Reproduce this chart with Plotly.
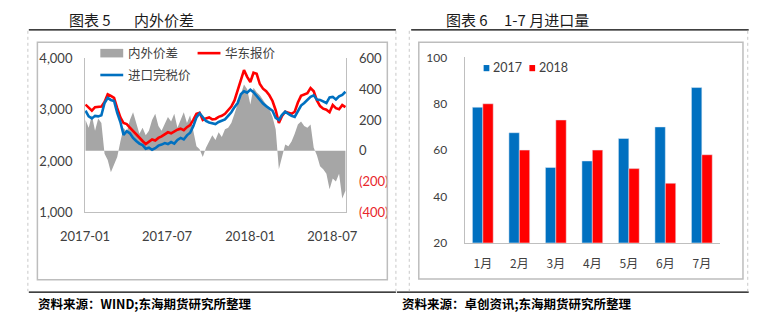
import plotly.graph_objects as go
import pandas as pd

W, H = 774, 323

# ---------------- data: chart 5 (weekly) ----------------
dates = pd.date_range("2017-01-02", periods=83, freq="7D")

east_china_price = [
    3100, 3030, 2980, 3050, 3050, 3060, 3150, 3300, 3270, 3230,
    3030, 2850, 2740, 2720, 2650, 2580, 2510, 2450, 2390, 2330,
    2380, 2420, 2400, 2450, 2480, 2520, 2560, 2540, 2580, 2610,
    2630, 2600, 2660, 2700, 2800, 2920, 2940, 2800, 2830, 2850,
    2810, 2820, 2860, 2880, 2920, 2980, 3060, 3180, 3380, 3580,
    3770, 3640, 3540, 3720, 3700, 3500, 3410, 3360, 3280, 3170,
    2990, 2740, 2880, 2960, 2940, 2920, 2960, 3140, 3270, 3290,
    3320, 3420, 3360, 3180, 3070, 3020, 3000, 2950, 3090, 3030,
    3010, 3090, 3050,
]

import_price = [
    2980, 2870, 2830, 2880, 2870, 2890, 3130, 3230, 3190, 3170,
    2940, 2760, 2510, 2580, 2540, 2450, 2390, 2340, 2310, 2240,
    2260, 2220, 2250, 2300, 2320, 2350, 2330, 2370, 2340, 2410,
    2450, 2420, 2500, 2550, 2680, 2850, 2930, 2850, 2780, 2750,
    2730, 2720, 2760, 2790, 2810, 2880, 2950, 3050, 3130, 3300,
    3360, 3330, 3390, 3340, 3270, 3180, 3120, 3070, 3020, 2980,
    2840, 2800, 2900, 2960, 2920, 2880, 2860, 2980, 3080, 3130,
    3190, 3250, 3280, 3200, 3190, 3160, 3130, 3240, 3250, 3200,
    3260, 3290, 3350,
]

spread = [
    200, 150, 230, 130, 210, 180, -20, -60, -140, -90,
    -40, 60, 150, 120, 200, 250, 180, 110, 150, 100,
    130, 200, 240, 160, 130, 180, 220, 190, 240, 150,
    200, 250, 180, 230, 130, 30, 10, -40, 20, 60,
    100, 70, 120, 90, 140, 150, 180, 240, 300, 370,
    430, 400, 300, 410, 380, 360, 330, 300, 270, 220,
    140, -120, -40, 40, 30, 60, 110, 170, 190, 160,
    150, 170, 20, -30, -100, -120, -150, -250, -180, -200,
    -150, -310, -260,
]

x_tick_vals = ["2017-01-01", "2017-07-01", "2018-01-01", "2018-07-01"]
x_tick_text = ["2017-01", "2017-07", "2018-01", "2018-07"]
price_ticks = [1000, 2000, 3000, 4000]
spread_ticks = [-400, -200, 0, 200, 400, 600]

# ---------------- data: chart 6 ----------------
months = ["1月", "2月", "3月", "4月", "5月", "6月", "7月"]
imports_2017 = [78.5, 67.5, 52.5, 55.3, 65, 70, 87]
imports_2018 = [80, 60, 73, 60, 52, 45.7, 58]

BLUE = "#0070C0"
RED = "#FF0000"
GRAY = "#A6A6A6"
NEG_RED = "#E8262B"
TXT = "#404040"
AX = "#BFBFBF"


def px(x):
    return x / W


def py(y):
    return 1 - y / H


fig = go.Figure()

# spread area (primary y, right side, drawn first)
fig.add_trace(go.Scatter(
    x=dates, y=spread, mode="lines", fill="tozeroy",
    line=dict(width=0, color=GRAY), fillcolor=GRAY,
    xaxis="x", yaxis="y", showlegend=False, name="内外价差"))
# price lines (left axis, overlaying)
fig.add_trace(go.Scatter(
    x=dates, y=east_china_price, mode="lines",
    line=dict(width=2.6, color=RED),
    xaxis="x", yaxis="y2", showlegend=False, name="华东报价"))
fig.add_trace(go.Scatter(
    x=dates, y=import_price, mode="lines",
    line=dict(width=2.6, color=BLUE),
    xaxis="x", yaxis="y2", showlegend=False, name="进口完税价"))

# bars
fig.add_trace(go.Bar(x=months, y=imports_2017, marker_color=BLUE,
                     xaxis="x2", yaxis="y3", showlegend=False, name="2017"))
fig.add_trace(go.Bar(x=months, y=imports_2018, marker_color=RED,
                     xaxis="x2", yaxis="y3", showlegend=False, name="2018"))

spread_text = []
for v in spread_ticks:
    if v < 0:
        spread_text.append(f"<span style='color:{NEG_RED}'>({abs(v)})</span>")
    else:
        spread_text.append(f"{v}")

tickfont = dict(family="Lato, Liberation Sans, sans-serif", size=13, color=TXT)

fig.update_layout(
    width=W, height=H,
    margin=dict(l=0, r=0, t=0, b=0),
    paper_bgcolor="white", plot_bgcolor="white",
    barmode="group", bargap=0.43, bargroupgap=0,
    xaxis=dict(domain=[px(63), px(337)], type="date",
               range=["2017-01-01", "2018-08-01"],
               tickvals=x_tick_vals, ticktext=x_tick_text,
               showgrid=False, zeroline=False, showline=True,
               linecolor=AX, linewidth=1, ticks="",
               ticklabelstandoff=12,
               tickfont=dict(family="Lato, Liberation Sans, sans-serif", size=13, color=TXT),
               anchor="y"),
    yaxis=dict(domain=[py(215), py(53)], range=[-400, 600], side="right",
               tickvals=spread_ticks, ticktext=spread_text,
               showgrid=False, zeroline=False, showline=True,
               linecolor=AX, linewidth=1, ticks="", ticklabelstandoff=9,
               tickfont=tickfont, anchor="x"),
    yaxis2=dict(range=[1000, 4000], side="left", overlaying="y",
                tickvals=price_ticks, tickformat=",d",
                showgrid=False, zeroline=False, showline=True,
                linecolor=AX, linewidth=1, ticks="", ticklabelstandoff=9,
                tickfont=tickfont, anchor="x"),
    xaxis2=dict(domain=[px(461), px(729)], anchor="y3",
                showgrid=False, zeroline=False, showline=True,
                linecolor=AX, linewidth=1, ticks="", ticklabelstandoff=10,
                tickfont=dict(family="Noto Sans CJK SC", size=12, color=TXT)),
    yaxis3=dict(domain=[py(247), py(52)], range=[20, 100], dtick=20,
                anchor="x2", showgrid=False, zeroline=False, showline=True,
                linecolor=AX, linewidth=1, ticks="", ticklabelstandoff=14,
                tickfont=dict(family="Lato, Liberation Sans, sans-serif", size=12, color=TXT)),
)

shapes = []
# black rules under titles and above sources
shapes.append(dict(type="line", x0=px(4), x1=px(389), y0=py(23), y1=py(23),
                   xref="paper", yref="paper", line=dict(color="black", width=1.3)))
shapes.append(dict(type="line", x0=px(405), x1=px(759), y0=py(23), y1=py(23),
                   xref="paper", yref="paper", line=dict(color="black", width=1.3)))
shapes.append(dict(type="line", x0=px(4), x1=px(389), y0=py(299), y1=py(299),
                   xref="paper", yref="paper", line=dict(color="black", width=1.3)))
shapes.append(dict(type="line", x0=px(390), x1=px(759), y0=py(299), y1=py(299),
                   xref="paper", yref="paper", line=dict(color="black", width=1.3)))
# chart frames
shapes.append(dict(type="rect", x0=px(13), x1=px(380), y0=py(286), y1=py(36),
                   xref="paper", yref="paper", line=dict(color="#BDBDBD", width=1.5)))
shapes.append(dict(type="rect", x0=px(413), x1=px(753), y0=py(285), y1=py(36),
                   xref="paper", yref="paper", line=dict(color="#BDBDBD", width=1.5)))
# dotted outer borders
for xv in (3, 389, 403, 758):
    shapes.append(dict(type="line", x0=px(xv), x1=px(xv), y0=py(24), y1=py(298),
                       xref="paper", yref="paper",
                       line=dict(color="#C8C8C8", width=1, dash="dot")))
# left legend markers
shapes.append(dict(type="rect", x0=px(79), x1=px(103), y0=py(52), y1=py(43),
                   xref="paper", yref="paper", fillcolor=GRAY, line=dict(width=0)))
shapes.append(dict(type="line", x0=px(181), x1=px(205), y0=py(47.5), y1=py(47.5),
                   xref="paper", yref="paper", line=dict(color=RED, width=2.6)))
shapes.append(dict(type="line", x0=px(79), x1=px(103), y0=py(70.5), y1=py(70.5),
                   xref="paper", yref="paper", line=dict(color=BLUE, width=2.6)))
# right legend markers
shapes.append(dict(type="rect", x0=px(481), x1=px(487), y0=py(66.5), y1=py(60),
                   xref="paper", yref="paper", fillcolor=BLUE, line=dict(width=0)))
shapes.append(dict(type="rect", x0=px(529), x1=px(535), y0=py(66.5), y1=py(60),
                   xref="paper", yref="paper", fillcolor=RED, line=dict(width=0)))

annotations = []


def txt(x, y, s, size, family="Noto Sans CJK SC", color=TXT, anchor="left", bold=False):
    annotations.append(dict(
        x=px(x), y=py(y), xref="paper", yref="paper", text=(f"<b>{s}</b>" if bold else s),
        showarrow=False, xanchor=anchor, yanchor="middle",
        font=dict(family=family, size=size, color=color)))


# titles
txt(44, 12, "图表 5", 15, color="#1a1a1a")
txt(112, 12, "内外价差", 15, color="#1a1a1a")
txt(439, 12, "图表 6", 15, color="#1a1a1a")
txt(500, 12, "1-7 月进口量", 15, color="#1a1a1a")
# legend labels
txt(106, 47, "内外价差", 12.5)
txt(208, 47, "华东报价", 12.5)
txt(106, 70, "进口完税价", 12.5)
txt(489, 63, "2017", 12.5, family="Lato, Liberation Sans, sans-serif")
txt(537, 63, "2018", 12.5, family="Lato, Liberation Sans, sans-serif")
# sources
txt(12, 311, "资料来源：WIND;东海期货研究所整理", 12.5, color="black", bold=True)
txt(393, 311, "资料来源：卓创资讯;东海期货研究所整理", 12.5, color="black", bold=True)

fig.update_layout(shapes=shapes, annotations=annotations)

fig.write_html("out.html")
